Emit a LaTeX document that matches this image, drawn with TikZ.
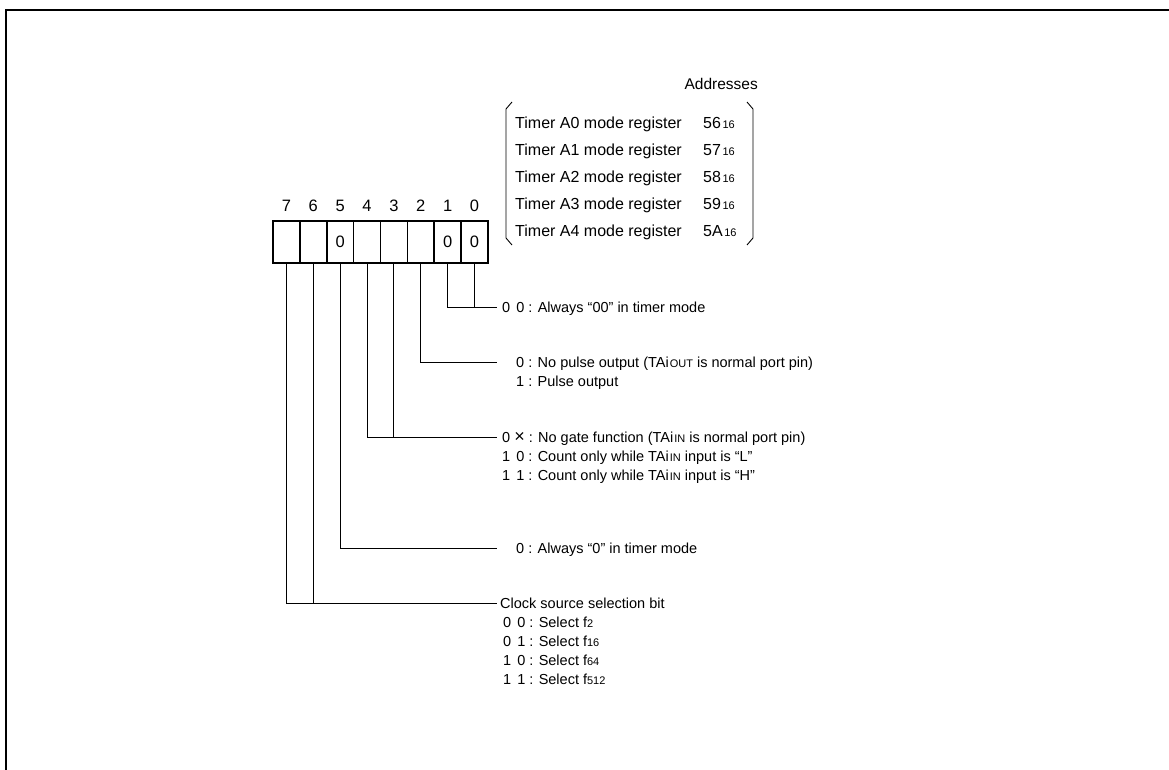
\documentclass[tikz,border=0pt]{standalone}
\usepackage{fontspec}
\setmainfont{Liberation Sans}
\newcommand{\lo}[1]{{\fontsize{11}{11}\selectfont #1}}
\newcommand{\gap}{\hspace{6pt}}
\newcommand{\crossx}{{\fontsize{18}{18}\selectfont ×}}
\begin{document}
\begin{tikzpicture}[x=1pt,y=-1pt,
  cell/.style={draw,line width=1.6pt,minimum width=26.875pt,minimum height=42pt,inner sep=0pt,font=\fontsize{16.5}{16.5}\selectfont},
  bitnum/.style={inner sep=0pt,font=\fontsize{16.5}{16.5}\selectfont},
  desc/.style={anchor=base west,inner sep=0pt,font=\fontsize{14.5}{19}\selectfont},
  addr/.style={anchor=base west,inner sep=0pt,font=\fontsize{16}{16}\selectfont},
  wire/.style={line width=0.9pt}]
\useasboundingbox (0,0) rectangle (1169,770);
\draw[line width=2pt] (6,770) -- (6,10) -- (1169,10);
% register cells
\foreach \i/\t in {7/,6/,5/0,4/,3/,2/,1/0,0/0}{
  \node[cell] (b\i) at ({286.4375+(7-\i)*26.875},242) {\t};
  \node[bitnum] (n\i) at ({286.4375+(7-\i)*26.875},206) {\i};
}
% addresses
\node[addr,anchor=base east,font=\fontsize{15.5}{15.5}\selectfont] (hdr) at (758,90) {Addresses};
\node[addr] (r0) at (515,128.5) {Timer A0 mode register};
\node[addr] (v0) at (703,128.5) {56\hspace{1.5pt}\lo{16}};
\node[addr] (r1) at (515,155.5) {Timer A1 mode register};
\node[addr] (v1) at (703,155.5) {57\hspace{1.5pt}\lo{16}};
\node[addr] (r2) at (515,182.5) {Timer A2 mode register};
\node[addr] (v2) at (703,182.5) {58\hspace{1.5pt}\lo{16}};
\node[addr] (r3) at (515,209.5) {Timer A3 mode register};
\node[addr] (v3) at (703,209.5) {59\hspace{1.5pt}\lo{16}};
\node[addr] (r4) at (515,236.5) {Timer A4 mode register};
\node[addr] (v4) at (703,236.5) {5A\hspace{1.5pt}\lo{16}};
\draw[wire] (512,102) -- (506,109) -- (506,238) -- (512,245);
\draw[wire] (747,102) -- (753,109) -- (753,238) -- (747,245);
% descriptions
\node[desc] (t0) at (502,312) {0\gap0 : Always “00” in timer mode};
\node[desc] (t2a) at (516,367) {0 : No pulse output (TAi\hspace{1pt}\lo{OUT} is normal port pin)};
\node[desc] (t2b) at (516,386) {1 : Pulse output};
\node[desc] (t3a) at (502,442) {0\hspace{4pt}\crossx\hspace{4pt}: No gate function (TAi\hspace{1pt}\lo{IN} is normal port pin)};
\node[desc] (t3b) at (502,461) {1\gap0 : Count only while TAi\hspace{1pt}\lo{IN} input is “L”};
\node[desc] (t3c) at (502,480) {1\gap1 : Count only while TAi\hspace{1pt}\lo{IN} input is “H”};
\node[desc] (t5) at (516,553) {0 : Always “0” in timer mode};
\node[desc] (t7) at (500,608) {Clock source selection bit};
\node[desc] (t7a) at (503,627) {0\gap0 : Select f\lo{2}};
\node[desc] (t7b) at (503,646) {0\gap1 : Select f\lo{16}};
\node[desc] (t7c) at (503,665) {1\gap0 : Select f\lo{64}};
\node[desc] (t7d) at (503,684) {1\gap1 : Select f\lo{512}};
% connectors
\coordinate (c0) at (497,307);
\coordinate (c2) at (497,362);
\coordinate (c3) at (497,437);
\coordinate (c5) at (497,548);
\coordinate (c7) at (497,603);
\draw[wire] (b1.south) |- (c0);
\draw[wire] (b0.south) -- (b0.south |- c0);
\draw[wire] (b2.south) |- (c2);
\draw[wire] (b4.south) |- (c3);
\draw[wire] (b3.south) -- (b3.south |- c3);
\draw[wire] (b5.south) |- (c5);
\draw[wire] (b7.south) |- (c7);
\draw[wire] (b6.south) -- (b6.south |- c7);
\end{tikzpicture}
\end{document}
